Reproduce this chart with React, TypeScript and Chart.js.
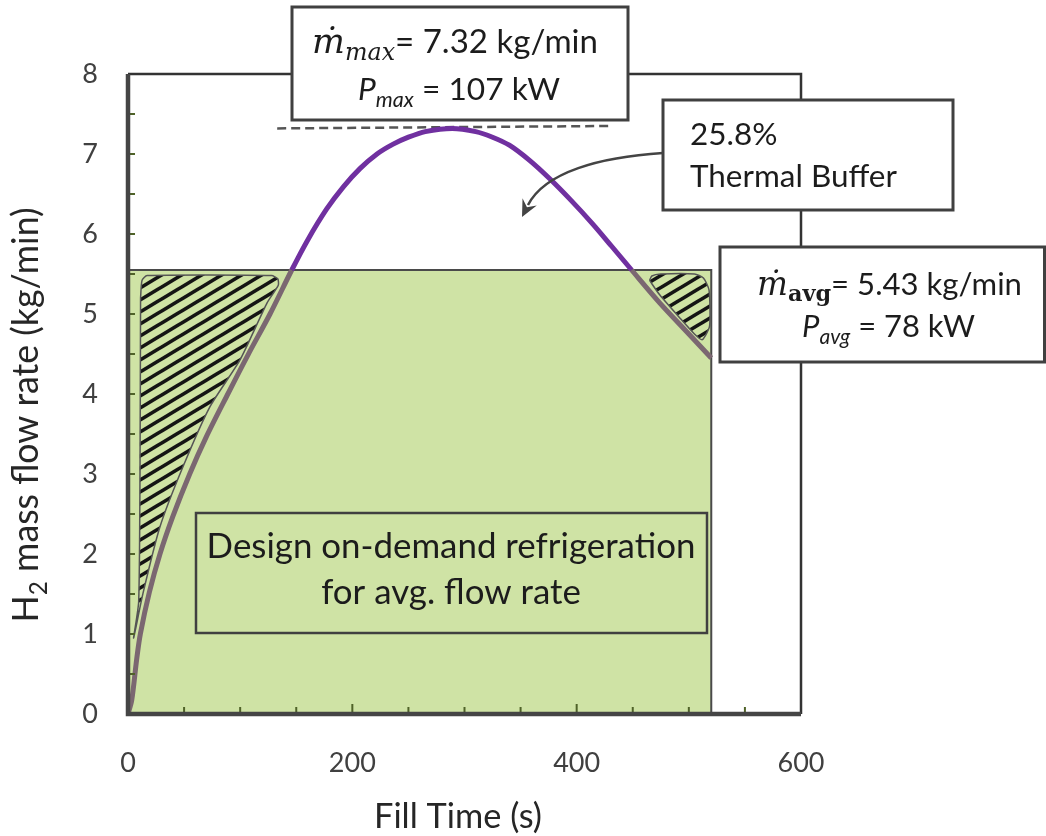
import React, { useEffect, useRef } from 'react';
import { Chart, registerables } from 'chart.js';

Chart.register(...registerables);

// ---- data ----
const fillTime = [0, 3.3, 7.7, 11, 19, 28.5, 40, 55, 70, 89, 107, 126.6, 146, 160, 177, 192, 207, 222, 236, 250, 265, 289, 310, 325, 340, 358, 376, 395, 414, 431, 449, 474, 500, 520];
const flowRate = [0, 0.17, 0.68, 1.0, 1.52, 2.0, 2.47, 3.0, 3.47, 4.0, 4.49, 5.0, 5.55, 5.92, 6.31, 6.59, 6.82, 7.0, 7.12, 7.21, 7.28, 7.32, 7.28, 7.21, 7.11, 6.92, 6.69, 6.42, 6.13, 5.85, 5.55, 5.14, 4.75, 4.45];

const avgLevel = 5.55;
const fillEnd = 520;

const maxLineT = [133, 430];
const maxLineY = [7.32, 7.35];

const leftHatchT = [11.2, 12.5, 17, 128, 133.5, 134, 124, 100, 73, 49, 28.5, 13.4, 5, 9.5, 10.7, 11.2];
const leftHatchY = [5.2, 5.42, 5.48, 5.48, 5.44, 5.36, 5.14, 4.43, 3.84, 3.09, 2.34, 1.51, 0.95, 1.4, 3.0, 5.2];

const rightHatchT = [465, 467, 475, 505, 513, 518, 518.5, 512, 505, 492, 474, 465];
const rightHatchY = [5.42, 5.475, 5.5, 5.5, 5.45, 5.3, 4.85, 4.68, 4.75, 4.95, 5.24, 5.42];

const xTicks = [0, 200, 400, 600];
const yTicks = [0, 1, 2, 3, 4, 5, 6, 7, 8];

const PURPLE = '#7030a0';
const TAUPE = '#7b6771';
const GREEN = '#cfe3a5';
const FRAME = '#454545';
const TICK = '#4f6228';
const TEXT = '#1c1c1c';
const SANS = 'Lato, "Open Sans", sans-serif';
const SERIF = '"DejaVu Serif", "Liberation Serif", serif';

type Run = { t: string; style: string; family: string; scale: number; dy: number };

function runsWidth(ctx: CanvasRenderingContext2D, runs: Run[], size: number) {
  let w = 0;
  for (const r of runs) {
    ctx.font = `${r.style} ${size * r.scale}px ${r.family}`;
    w += ctx.measureText(r.t).width;
  }
  return w;
}
function fitSize(ctx: CanvasRenderingContext2D, runs: Run[], target: number) {
  return (100 * target) / runsWidth(ctx, runs, 100);
}
function drawRuns(ctx: CanvasRenderingContext2D, runs: Run[], size: number, x: number, baseline: number, align: 'center' | 'left') {
  const total = runsWidth(ctx, runs, size);
  let cx = align === 'center' ? x - total / 2 : x;
  ctx.textAlign = 'left';
  ctx.textBaseline = 'alphabetic';
  for (const r of runs) {
    ctx.font = `${r.style} ${size * r.scale}px ${r.family}`;
    ctx.fillText(r.t, cx, baseline + r.dy * size);
    cx += ctx.measureText(r.t).width;
  }
}
const R = (t: string, style = 'normal', family = SANS, scale = 1, dy = 0): Run => ({ t, style, family, scale, dy });

function makeHatch(): CanvasPattern | string {
  const w = 20, h = 12;
  const c = document.createElement('canvas');
  c.width = w; c.height = h;
  const g = c.getContext('2d');
  if (!g) return '#222';
  g.strokeStyle = '#141414';
  g.lineWidth = 3.6;
  g.lineCap = 'butt';
  const seg = (x1: number, y1: number, x2: number, y2: number) => { g.beginPath(); g.moveTo(x1, y1); g.lineTo(x2, y2); g.stroke(); };
  seg(-w, 2 * h, 2 * w, -h);
  seg(-w, h, w, -h);
  seg(0, 2 * h, 2 * w, 0);
  const p = g.createPattern(c, 'repeat');
  return p || '#222';
}

const framePlugin = {
  id: 'frameTicks',
  afterDatasetsDraw(chart: any) {
    const { ctx, chartArea: a, scales } = chart;
    const xs = scales.x, ys = scales.y;
    ctx.save();
    ctx.strokeStyle = TICK;
    ctx.lineWidth = 2;
    for (let v = 0.5; v < 8; v += 0.5) {
      const py = ys.getPixelForValue(v);
      ctx.beginPath(); ctx.moveTo(a.left, py); ctx.lineTo(a.left + 7, py); ctx.stroke();
    }
    for (let v = 50; v < 600; v += 50) {
      const px = xs.getPixelForValue(v);
      const len = v % 200 === 0 ? 10 : 7;
      ctx.beginPath(); ctx.moveTo(px, a.bottom); ctx.lineTo(px, a.bottom - len); ctx.stroke();
    }
    ctx.strokeStyle = '#333';
    ctx.lineWidth = 2.5;
    ctx.beginPath();
    ctx.moveTo(a.left, a.top); ctx.lineTo(a.right, a.top); ctx.lineTo(a.right, a.bottom);
    ctx.stroke();
    ctx.strokeStyle = FRAME;
    ctx.lineWidth = 4.5;
    ctx.beginPath();
    ctx.moveTo(a.left, a.top); ctx.lineTo(a.left, a.bottom); ctx.lineTo(a.right, a.bottom);
    ctx.stroke();
    ctx.restore();
  },
};

const annotPlugin = {
  id: 'annot',
  afterDraw(chart: any) {
    const { ctx } = chart;
    ctx.save();
    const box = (x1: number, y1: number, x2: number, y2: number, fill: string, lw: number) => {
      ctx.fillStyle = fill;
      ctx.fillRect(x1, y1, x2 - x1, y2 - y1);
      ctx.strokeStyle = '#404040';
      ctx.lineWidth = lw;
      ctx.strokeRect(x1, y1, x2 - x1, y2 - y1);
    };
    ctx.fillStyle = TEXT;

    box(196, 513, 707, 633, GREEN, 2.5);
    ctx.fillStyle = TEXT;
    const d1 = [R('Design on-demand refrigeration')];
    const d2 = [R('for avg. flow rate')];
    const ds = fitSize(ctx, d1, 489);
    drawRuns(ctx, d1, ds, 451, 558, 'center');
    drawRuns(ctx, d2, ds, 451, 604, 'center');

    box(292, 7, 628, 120, '#ffffff', 3);
    ctx.fillStyle = TEXT;
    const t1 = [R('ṁ', 'italic', SERIF, 1.05), R('max', 'italic', SERIF, 0.72, 0.22), R('= 7.32 kg/min')];
    const t2 = [R('P', 'italic'), R('max', 'italic', SANS, 0.68, 0.22), R(' = 107 kW')];
    drawRuns(ctx, t1, fitSize(ctx, t1, 286), 455, 53, 'center');
    drawRuns(ctx, t2, fitSize(ctx, t2, 202), 459, 100, 'center');

    box(663, 100, 953, 210, '#ffffff', 3);
    ctx.fillStyle = TEXT;
    const b1 = [R('25.8%')];
    const b2 = [R('Thermal Buffer')];
    const bs = fitSize(ctx, b2, 207);
    drawRuns(ctx, b1, bs, 690, 145, 'left');
    drawRuns(ctx, b2, bs, 690, 187, 'left');

    box(720, 247, 1044.5, 362, '#ffffff', 3);
    ctx.fillStyle = TEXT;
    const a1 = [R('ṁ', 'italic', SERIF, 1.05), R('avg', 'bold', SERIF, 0.72, 0.2), R('= 5.43 kg/min')];
    const a2 = [R('P', 'italic'), R('avg', 'italic', SANS, 0.68, 0.22), R(' = 78 kW')];
    drawRuns(ctx, a1, fitSize(ctx, a1, 265), 889.5, 295, 'center');
    drawRuns(ctx, a2, fitSize(ctx, a2, 173), 888.5, 337, 'center');

    ctx.strokeStyle = '#444';
    ctx.lineWidth = 2.5;
    ctx.beginPath();
    ctx.moveTo(663, 153);
    ctx.bezierCurveTo(600, 157, 545, 172, 528, 205);
    ctx.stroke();
    const tip = { x: 522, y: 217 };
    const dx = -0.45, dy = 0.89;
    const bx = tip.x - dx * 17, by = tip.y - dy * 17;
    const nx = 0.89, ny = 0.45;
    ctx.fillStyle = '#444';
    ctx.beginPath();
    ctx.moveTo(tip.x, tip.y);
    ctx.lineTo(bx + nx * 8, by + ny * 8);
    ctx.lineTo(tip.x - dx * 11, tip.y - dy * 11);
    ctx.lineTo(bx - nx * 8, by - ny * 8);
    ctx.closePath();
    ctx.fill();

    ctx.fillStyle = '#262626';
    const yt = [R('H'), R('2', 'normal', SANS, 0.68, 0.25), R(' mass flow rate (kg/min)')];
    const ys = fitSize(ctx, yt, 415);
    ctx.save();
    ctx.translate(38, 415);
    ctx.rotate(-Math.PI / 2);
    drawRuns(ctx, yt, ys, 0, 0, 'center');
    ctx.restore();
    const xt = [R('Fill Time (s)')];
    drawRuns(ctx, xt, fitSize(ctx, xt, 168), 458, 828, 'center');

    ctx.restore();
  },
};

export default function App() {
  const ref = useRef<HTMLCanvasElement | null>(null);
  useEffect(() => {
    const canvas = ref.current;
    if (!canvas) return;
    const hatch = makeHatch();
    const curve = fillTime.map((t, i) => ({ x: t, y: flowRate[i] }));
    const chart = new Chart(canvas, {
      type: 'line',
      data: {
        datasets: [
          {
            data: curve,
            borderColor: PURPLE,
            borderWidth: 5,
            pointRadius: 0,
            fill: false,
            tension: 0.3,
            order: 1,
            segment: {
              borderColor: (c: any) => (c.p0.parsed.y >= avgLevel - 0.01 && c.p1.parsed.y >= avgLevel - 0.01 ? PURPLE : TAUPE),
            },
          } as any,
          {
            data: maxLineT.map((t, i) => ({ x: t, y: maxLineY[i] })),
            borderColor: '#555',
            borderWidth: 2.5,
            borderDash: [9, 5],
            pointRadius: 0,
            fill: false,
            order: 2,
          },
          {
            data: leftHatchT.map((t, i) => ({ x: t, y: leftHatchY[i] })),
            borderColor: '#555',
            borderWidth: 1.5,
            backgroundColor: hatch as any,
            pointRadius: 0,
            tension: 0.2,
            fill: 'shape',
            order: 3,
          } as any,
          {
            data: rightHatchT.map((t, i) => ({ x: t, y: rightHatchY[i] })),
            borderColor: '#555',
            borderWidth: 1.5,
            backgroundColor: hatch as any,
            pointRadius: 0,
            tension: 0.2,
            fill: 'shape',
            order: 3,
          } as any,
          {
            data: [
              { x: 0, y: avgLevel },
              { x: fillEnd, y: avgLevel },
              { x: fillEnd, y: 0 },
            ],
            borderColor: '#4a4a4a',
            borderWidth: 2,
            backgroundColor: GREEN,
            pointRadius: 0,
            fill: 'origin',
            order: 5,
          },
        ],
      },
      options: {
        responsive: false,
        animation: false,
        layout: { padding: { top: 74, right: 245, left: 0, bottom: 0 } },
        plugins: {
          legend: { display: false },
          tooltip: { enabled: false },
          title: { display: false },
        },
        scales: {
          x: {
            type: 'linear',
            min: 0,
            max: 600,
            afterFit: (s: any) => { s.height = 122; },
            afterBuildTicks: (s: any) => { s.ticks = xTicks.map((v) => ({ value: v })); },
            grid: { display: false, drawTicks: false },
            border: { display: false },
            ticks: { padding: 33, font: { family: SANS, size: 27 }, color: '#404040', maxRotation: 0, autoSkip: false },
          },
          y: {
            min: 0,
            max: 8,
            afterFit: (s: any) => { s.width = 128; },
            afterBuildTicks: (s: any) => { s.ticks = yTicks.map((v) => ({ value: v })); },
            grid: { display: false, drawTicks: false },
            border: { display: false },
            ticks: { padding: 30, font: { family: SANS, size: 27 }, color: '#404040', autoSkip: false },
          },
        },
      } as any,
      plugins: [framePlugin, annotPlugin],
    });
    return () => chart.destroy();
  }, []);
  return (
    <canvas
      ref={ref}
      width={1046}
      height={836}
      style={{ position: 'fixed', left: 0, top: 0, width: 1046, height: 836, background: '#fff' }}
    />
  );
}
